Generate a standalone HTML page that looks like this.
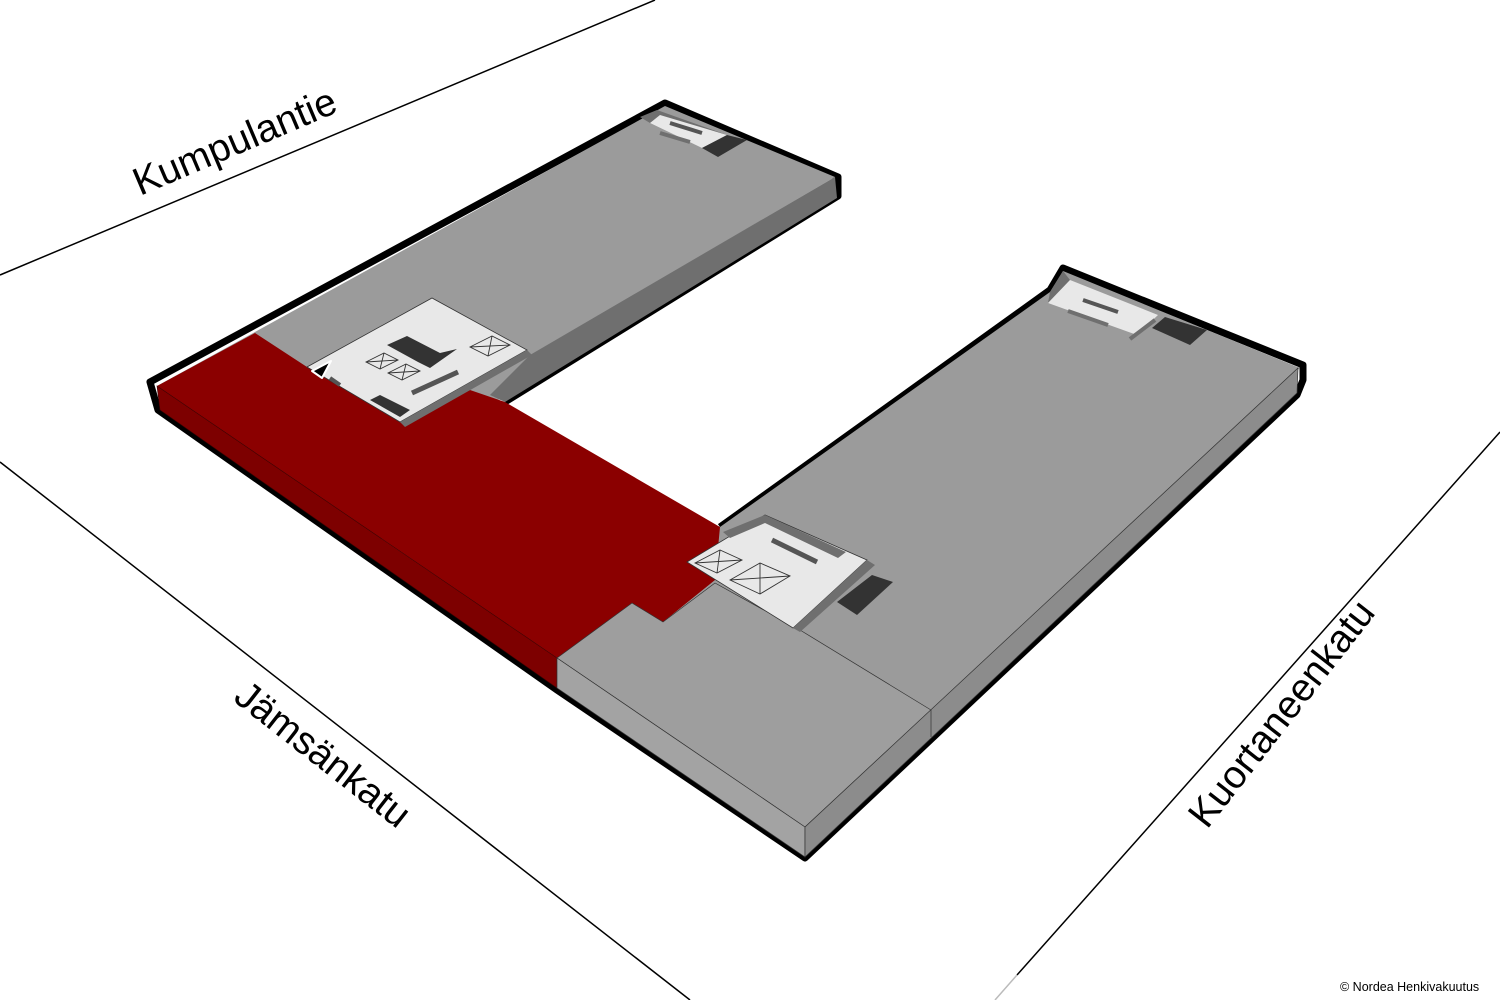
<!DOCTYPE html>
<html><head><meta charset="utf-8"><style>
html,body{margin:0;padding:0;background:#fff;}
svg{display:block;}
text{font-family:"Liberation Sans","DejaVu Sans",sans-serif;fill:#000;}
</style></head><body>
<svg width="1500" height="1000" viewBox="0 0 1500 1000" xmlns="http://www.w3.org/2000/svg">
<!-- roads -->
<line x1="0" y1="275" x2="655" y2="0" stroke="#000" stroke-width="1.5"/>
<line x1="0" y1="462" x2="690" y2="1000" stroke="#000" stroke-width="1.5"/>
<line x1="1500" y1="432" x2="1017" y2="975" stroke="#000" stroke-width="1.5"/>
<line x1="1017" y1="975" x2="995" y2="1000" stroke="#bbb" stroke-width="1.5"/>

<text x="0" y="0" font-size="39" transform="translate(140,196) rotate(-23)">Kumpulantie</text>
<text x="0" y="0" font-size="39" transform="translate(232,700) rotate(38)">Jämsänkatu</text>
<text x="0" y="0" font-size="39" transform="translate(1207,830) rotate(-52)">Kuortaneenkatu</text>
<text x="1340" y="991" font-size="12.5">© Nordea Henkivakuutus</text>

<!-- black outline / shadow -->
<g stroke="#000" stroke-width="7" stroke-linejoin="round" fill="none">
<polyline points="505,402 838,196 838,177 665,103 150,382 158,410 557,690 805,858 1297,395 1303,380 1303,365 1063,268 1050,290 720,527"/>
</g>

<!-- left wing grey top -->
<polygon points="157,386 665,106 835,177 540,350 505,400" fill="#9b9b9b"/>
<!-- left wing inner side face -->
<polygon points="835,177 837,198 505,402 490,395 530,355" fill="#6f6f6f"/>
<!-- right wing top -->
<polygon points="720,527 1050,292 1063,271 1300,368 931,710 805,827 557,658" fill="#9b9b9b"/>
<polygon points="1050,292 1063,271 1070,280 1048,303" fill="#6f6f6f"/>

<!-- red top -->
<polygon points="157,386 255,333 307,367 400,422 470,390 505,402 720,527 715,580 663,622 632,603 557,658" fill="#8b0000"/>
<!-- red side -->
<polygon points="157,386 557,658 557,688 160,410" fill="#7d0000" stroke="#3a0000" stroke-width="0.6"/>

<!-- grey front block -->
<polygon points="557,658 632,603 663,622 715,583 800,630 931,710 805,827" fill="#9e9e9e" stroke="#333" stroke-width="0.7"/>
<polygon points="557,658 805,827 805,857 557,688" fill="#a3a3a3" stroke="#333" stroke-width="0.7"/>
<polygon points="805,827 1298,368 1297,393 805,857" fill="#8c8c8c" stroke="#333" stroke-width="0.7"/>
<line x1="931" y1="710" x2="931" y2="737" stroke="#333" stroke-width="0.7"/>

<!-- left core -->
<polygon points="307,367 432,298 527,350 400,422" fill="#e8e8e8" stroke="#333" stroke-width="0.8"/>
<polygon points="400,422 527,350 532,355 405,427" fill="#6f6f6f"/>
<polygon points="387,345 407,336 440,353 457,349 430,368 418,362" fill="#333"/>
<polygon points="370,400 380,395 410,410 400,417" fill="#333"/>
<line x1="412" y1="393" x2="458" y2="372" stroke="#555" stroke-width="5"/>
<line x1="330" y1="378" x2="340" y2="385" stroke="#555" stroke-width="4"/>
<g fill="none" stroke="#333" stroke-width="0.9">
<polygon points="366,362 384,353 398,360 380,369"/><line x1="366" y1="362" x2="398" y2="360"/><line x1="384" y1="353" x2="380" y2="369"/>
<polygon points="388,373 406,364 420,371 402,380"/><line x1="388" y1="373" x2="420" y2="371"/><line x1="406" y1="364" x2="402" y2="380"/>
<polygon points="470,347 492,336 510,345 488,356"/><line x1="470" y1="347" x2="510" y2="345"/><line x1="492" y1="336" x2="488" y2="356"/>
</g>
<polygon points="312,371 331,361 322,378" fill="#000" stroke="#fff" stroke-width="2" stroke-linejoin="round"/>

<!-- middle core -->
<polygon points="687,562 765,515 867,560 793,628" fill="#e8e8e8" stroke="#333" stroke-width="0.8"/>
<polygon points="723,532 765,515 846,552 838,558 765,523 730,538" fill="#6f6f6f"/>
<polygon points="793,628 867,560 875,565 800,632" fill="#6f6f6f"/>
<polygon points="837,602 872,575 893,582 857,615" fill="#333"/>
<line x1="772" y1="540" x2="817" y2="562" stroke="#555" stroke-width="5"/>
<g fill="none" stroke="#333" stroke-width="0.9">
<polygon points="695,563 720,550 742,560 717,573"/><line x1="695" y1="563" x2="742" y2="560"/><line x1="720" y1="550" x2="717" y2="573"/>
<polygon points="730,580 760,563 790,576 760,594"/><line x1="730" y1="580" x2="790" y2="576"/><line x1="760" y1="563" x2="760" y2="594"/>
</g>

<!-- top-left core -->
<polygon points="640,117 657,110 727,135 702,148 650,123" fill="#6f6f6f"/>
<polygon points="650,123 660,115 727,135 702,148" fill="#e8e8e8"/>
<polygon points="702,148 727,135 747,140 718,157" fill="#333"/>
<line x1="670" y1="123" x2="702" y2="133" stroke="#555" stroke-width="4"/>
<line x1="660" y1="133" x2="690" y2="142" stroke="#6f6f6f" stroke-width="4"/>

<!-- top-right core -->
<polygon points="1048,303 1070,280 1158,315 1137,335" fill="#e8e8e8"/>
<polygon points="1152,328 1165,317 1207,330 1190,345" fill="#333"/>
<line x1="1083" y1="300" x2="1118" y2="312" stroke="#555" stroke-width="4"/>
<line x1="1068" y1="311" x2="1108" y2="325" stroke="#6f6f6f" stroke-width="4"/>
<line x1="1130" y1="339" x2="1155" y2="320" stroke="#6f6f6f" stroke-width="4"/>
</svg>
</body></html>
